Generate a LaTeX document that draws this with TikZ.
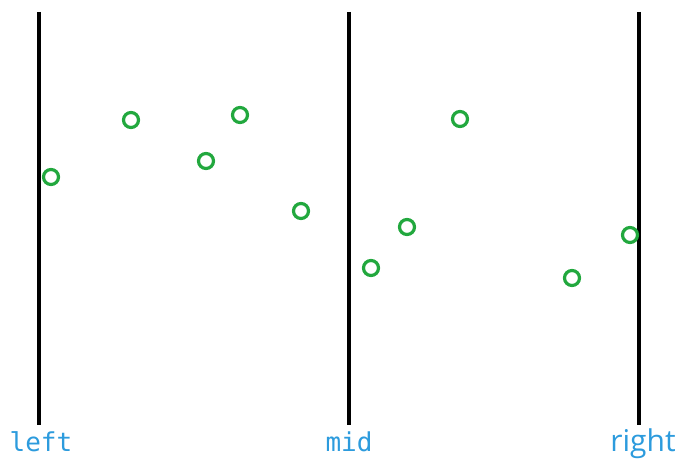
\documentclass[tikz,border=0pt]{standalone}
\usepackage{fontspec}
\newfontfamily\monofont{DejaVu Sans Mono}
\newfontfamily\sansfont{Open Sans}
\definecolor{ptgreen}{HTML}{22A83E}
\definecolor{lblblue}{HTML}{2C9BDD}
\begin{document}
\begin{tikzpicture}[x=1pt,y=-1pt,
  wall/.style={line width=3.2pt,black},
  pt/.style={circle,draw=ptgreen,line width=3.2pt,minimum size=15pt,inner sep=0pt},
  monolbl/.style={text=lblblue,font=\monofont\fontsize{26}{30}\selectfont,anchor=base,inner sep=0pt},
  sanslbl/.style={text=lblblue,font=\sansfont\fontsize{30}{34}\selectfont,anchor=base,inner sep=0pt}]
\useasboundingbox (0,0) rectangle (693,465);
\coordinate (lt) at (39,12); \coordinate (lb) at (39,425);
\coordinate (mt) at (349,12); \coordinate (mb) at (349,425);
\coordinate (rt) at (639,12); \coordinate (rb) at (639,425);
\draw[wall] (lt) -- (lb);
\draw[wall] (mt) -- (mb);
\draw[wall] (rt) -- (rb);
\node[monolbl] (left) at (41,451) {left};
\node[monolbl] (mid) at (349,451) {mid};
\node[sanslbl] (right) at (643,451) {right};
\node[pt] (p1) at (51,177) {};
\node[pt] (p2) at (131,120) {};
\node[pt] (p3) at (206,161) {};
\node[pt] (p4) at (240,115) {};
\node[pt] (p5) at (301,211) {};
\node[pt] (p6) at (371,268) {};
\node[pt] (p7) at (407,227) {};
\node[pt] (p8) at (460,119) {};
\node[pt] (p9) at (572,278) {};
\node[pt] (p10) at (630,235) {};
\end{tikzpicture}
\end{document}
